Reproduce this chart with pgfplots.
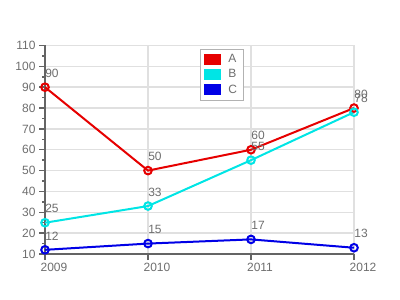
\documentclass[border=0pt]{standalone}
\usepackage{fontspec}
\setmainfont{Liberation Sans}
\usepackage{pgfplots}
\pgfplotsset{compat=1.18}
\definecolor{sA}{RGB}{230,0,0}
\definecolor{sB}{RGB}{0,229,229}
\definecolor{sC}{RGB}{0,0,230}
\definecolor{txt}{RGB}{110,110,110}
\definecolor{axl}{RGB}{100,100,100}
\definecolor{grd}{RGB}{224,224,224}
\begin{document}
\begin{tikzpicture}[x=1bp,y=1bp]
\path[use as bounding box] (0,0) rectangle (400,300);
\begin{axis}[
 at={(45bp,46bp)}, anchor=south west, scale only axis,
 width=309bp, height=208.5bp,
 xmin=2009, xmax=2012, ymin=10, ymax=110,
 xtick={2009,2010,2011,2012}, ytick={10,20,...,110},
 minor y tick num=1,
 axis x line*=bottom, axis y line*=left,
 axis line style={axl, line width=2bp, -},
 grid=major, major grid style={grd, line width=1.5bp},
 tick align=outside, major tick length=6bp, minor tick length=3bp,
 tick style={axl, line width=1.5bp},
 ticklabel style={font=\fontsize{12bp}{14bp}\selectfont, text=txt},
 /pgf/number format/assume math mode=true,
 xticklabel style={/pgf/number format/1000 sep={}, xshift=9bp},
 clip=false,
 legend style={at={(0.502,0.982)}, anchor=north west, draw=gray!60, fill=white,
   font=\fontsize{12bp}{14bp}\selectfont, text=txt, inner xsep=4bp, inner ysep=3bp,
   row sep=1.5bp, cells={anchor=west},
   /tikz/every odd column/.append style={column sep=5bp}},
 legend image code/.code={\fill (0bp,-4.5bp) rectangle (15bp,4.5bp);},
 nodes near coords,
 every node near coord/.append style={anchor=center, xshift=7bp, yshift=14bp, text=txt, font=\fontsize{12bp}{14bp}\selectfont},
]
\addplot[sA, line width=2bp, mark=o, mark size=3.8bp, mark options={line width=2bp}] coordinates {(2009,90)(2010,50)(2011,60)(2012,80)};
\addlegendentry{A}
\addplot[sB, line width=2bp, mark=o, mark size=3.8bp, mark options={line width=2bp}] coordinates {(2009,25)(2010,33)(2011,55)(2012,78)};
\addlegendentry{B}
\addplot[sC, line width=2bp, mark=o, mark size=3.8bp, mark options={line width=2bp}] coordinates {(2009,12)(2010,15)(2011,17)(2012,13)};
\addlegendentry{C}
\end{axis}
\end{tikzpicture}
\end{document}
